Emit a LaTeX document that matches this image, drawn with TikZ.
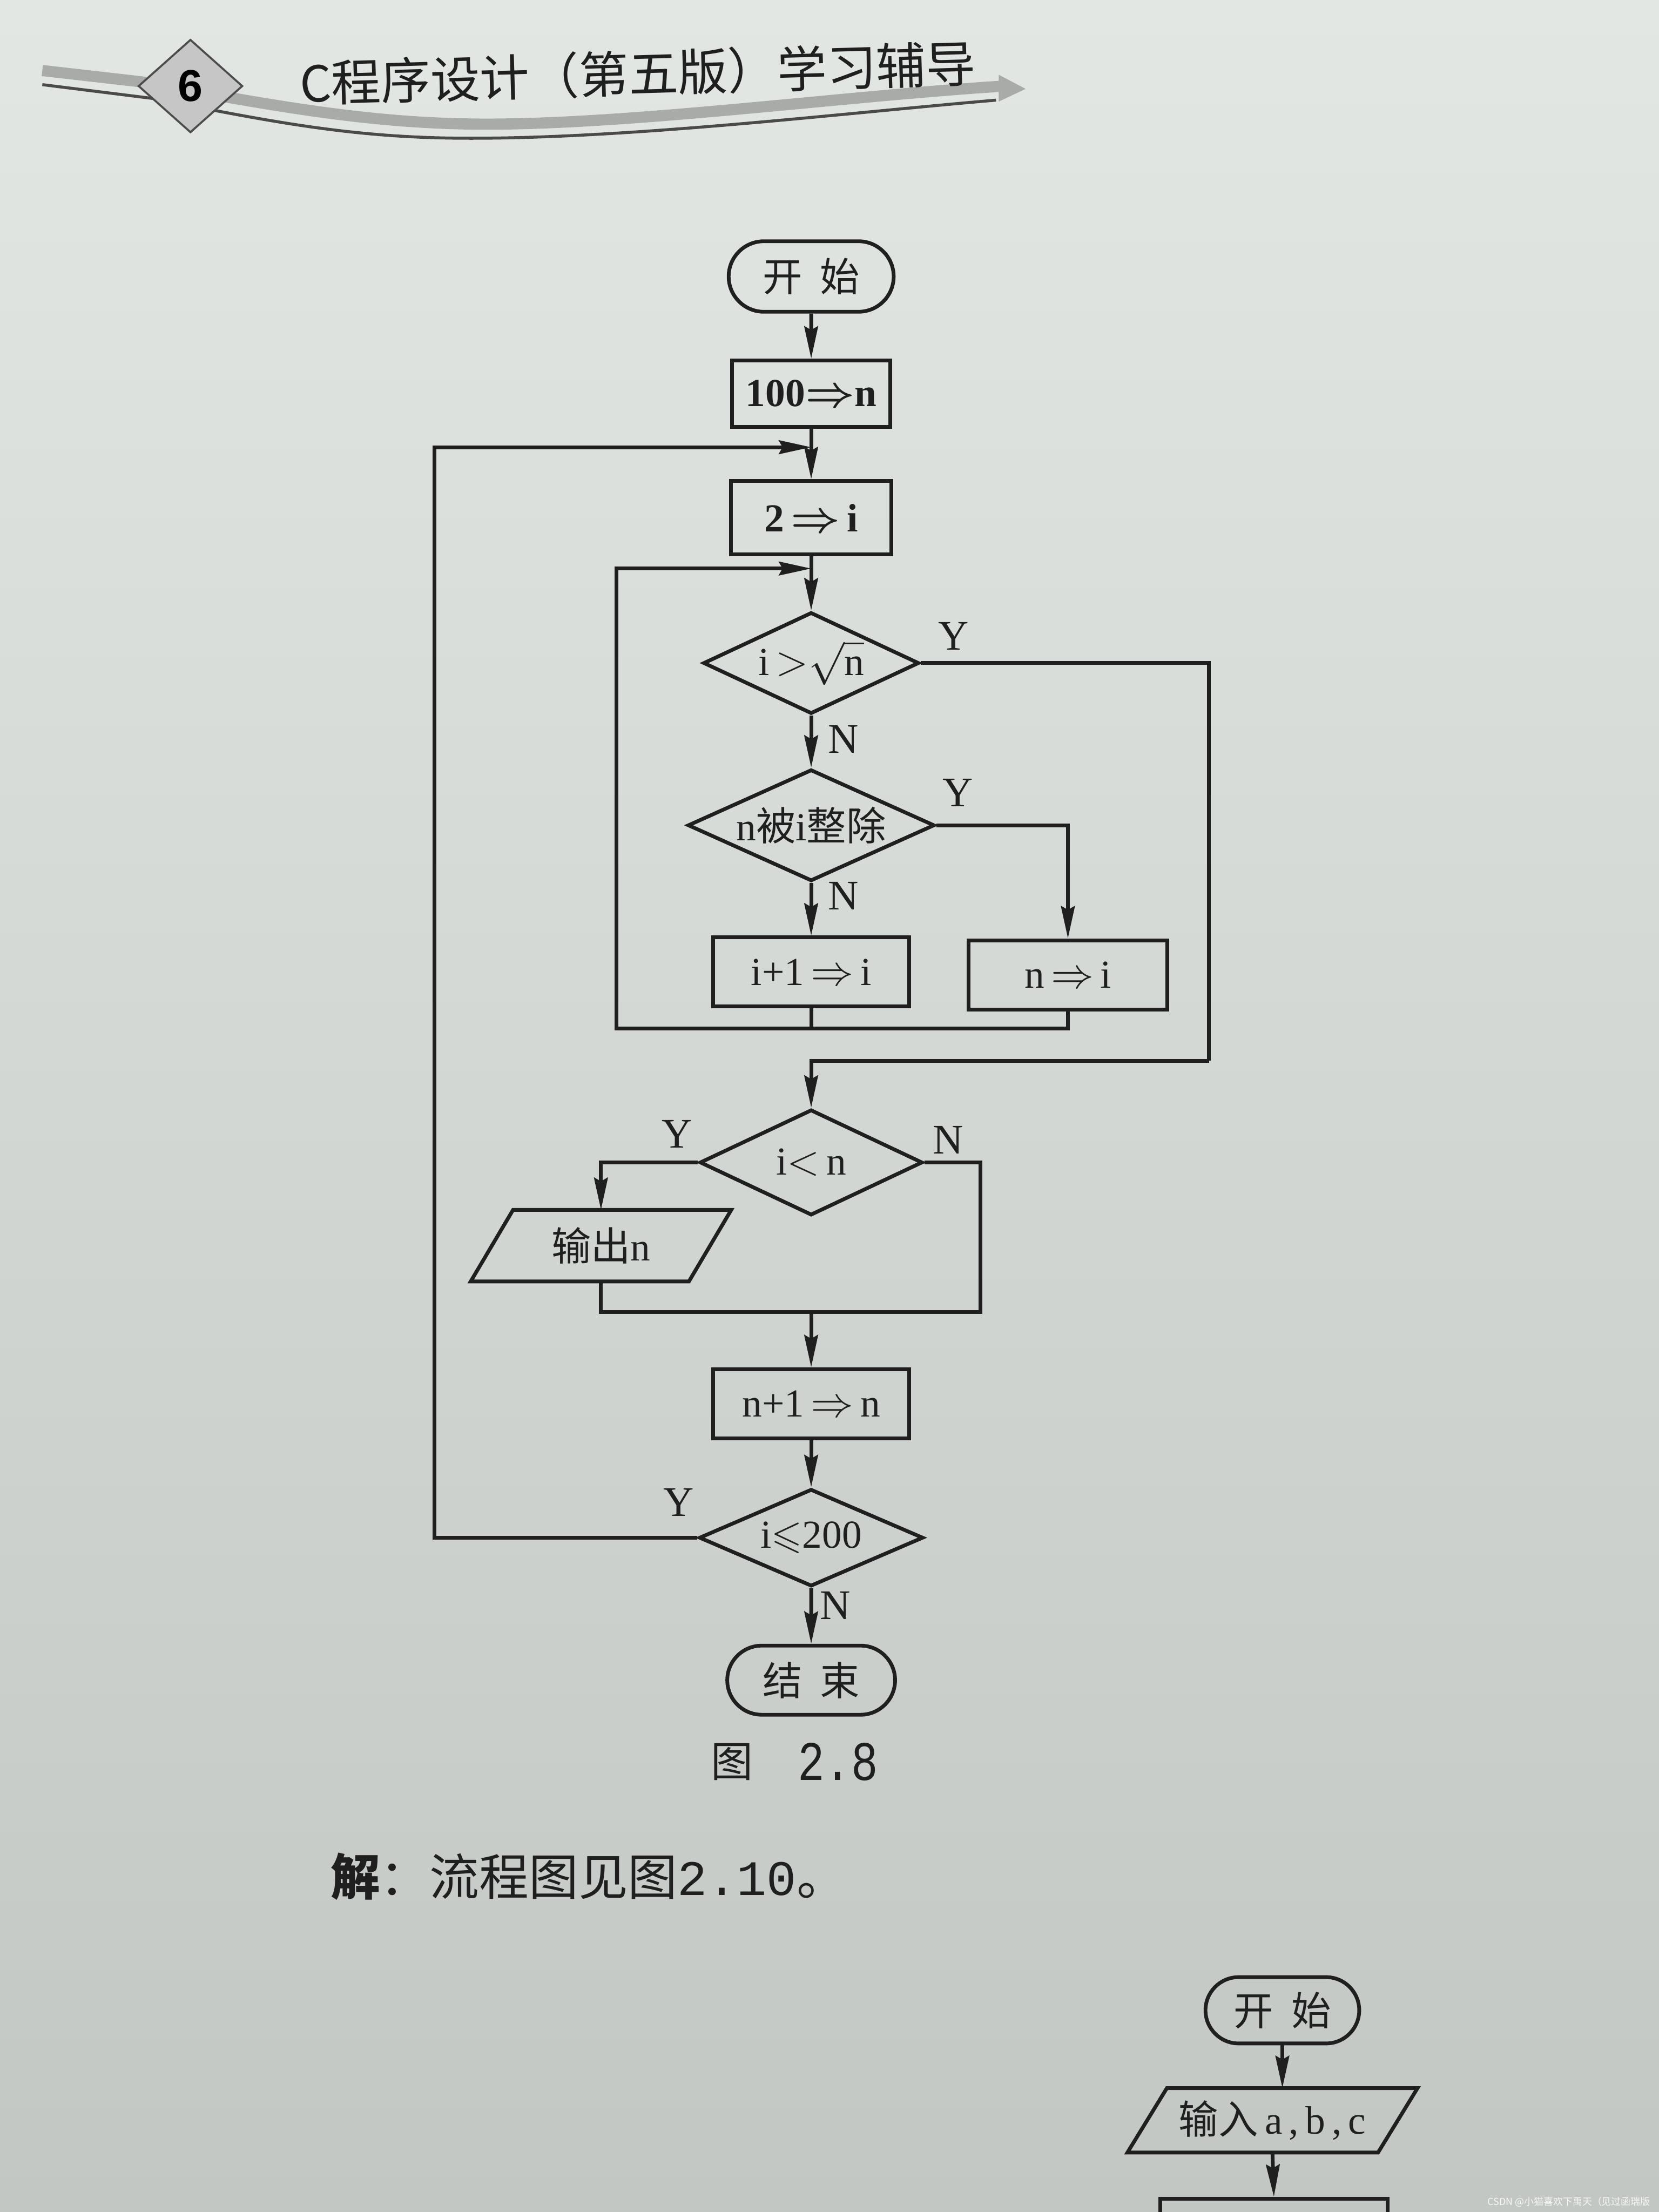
\documentclass[tikz,border=0pt]{standalone}
\usepackage{fontspec}
\usepackage{amssymb}
\usepackage{graphicx}
\setmainfont{Liberation Serif}
\setsansfont{Liberation Sans}
\newfontfamily\cjk{Noto Sans CJK SC}
\newfontfamily\monof{Liberation Mono}
\usetikzlibrary{shapes.misc,shapes.geometric,arrows.meta,calc}
\definecolor{ink}{HTML}{1F1F1F}
\definecolor{paperA}{HTML}{E3E7E4}
\definecolor{paperB}{HTML}{DADEDB}
\definecolor{paperC}{HTML}{C3C7C4}
\definecolor{bandc}{HTML}{A9ABA9}
\definecolor{thinc}{HTML}{4A4A4A}
\newcommand\zh[1]{{\cjk #1}}
\newcommand\fsz{\fontsize{16}{19}\selectfont}
\newcommand\drawpara[2]{\draw[ln] ([xshift=-#2]#1.south west) -- ([xshift=-#2]#1.south east) -- ([xshift=#2]#1.north east) -- ([xshift=#2]#1.north west) -- cycle;}
\tikzset{
 ln/.style={draw=ink, line width=1.5pt},
 arr/.style={ln, -{Stealth[length=13pt,width=5.5pt,inset=1.5pt]}},
 proc/.style={rectangle, ln, inner sep=0pt, font=\fsz, text=ink},
 term/.style={rounded rectangle, ln, inner sep=0pt, font=\fsz, text=ink},
 dec/.style={diamond, ln, inner sep=0pt, aspect=2, font=\fsz, text=ink},
 txt/.style={inner sep=0pt, font=\fsz, text=ink},
 yn/.style={inner sep=0pt, font=\fontsize{17}{17}\selectfont, text=ink},
}
\begin{document}
\begin{tikzpicture}[x=0.02cm,y=-0.02cm]
\clip (0,0) rectangle (1176,1568);
\shade[top color=paperA, middle color=paperB, bottom color=paperC] (0,0) rectangle (1176,1568);

% ---------- page header ----------
\draw[bandc, line width=4.5pt] (30,50) -- (100,58) .. controls (190,74) and (260,88) .. (345,88) .. controls (450,88) and (600,68) .. (712,61);
\fill[bandc] (708,53) -- (727,63) -- (708,72) -- cycle;
\draw[thinc, line width=1.2pt] (30,60) -- (110,70) .. controls (200,88) and (255,98) .. (334,98) .. controls (450,98) and (600,80) .. (706,71);
\node[diamond, draw=gray!60!black, fill=gray!45, line width=0.8pt, minimum width=1.48cm, minimum height=1.32cm, inner sep=0pt, aspect=1.1] (pg) at (135,61) {\sffamily\bfseries\fontsize{18}{18}\selectfont 6};
\node[rotate=1.7, inner sep=0pt, text=ink, font=\cjk\fontsize{20}{20}\selectfont] (hdr) at (452,52) {C程序设计（第五版）学习辅导};

% ---------- main flowchart ----------
\node[term, minimum width=2.34cm, minimum height=1.0cm] (start) at (575,196) {\zh{开\hspace{0.45em}始}};
\node[proc, minimum width=2.24cm, minimum height=0.94cm] (n100) at (575,279) {\bfseries 100{\boldmath$\Rightarrow$}n};
\node[proc, minimum width=2.28cm, minimum height=1.04cm] (i2) at (575,367) {\bfseries 2\,{\boldmath$\Rightarrow$}\,i};
\node[dec, minimum width=3.06cm, minimum height=1.44cm] (d1) at (575,470) {i\,$>$$\sqrt{\hbox{n}}$};
\node[dec, minimum width=3.5cm, minimum height=1.54cm] (d2) at (575,585) {n\zh{被}i\zh{整除}};
\node[proc, minimum width=2.78cm, minimum height=0.98cm] (inc) at (575,689) {i+1\,$\Rightarrow$\,i};
\node[proc, minimum width=2.82cm, minimum height=0.98cm] (ni) at (757,691) {n\,$\Rightarrow$\,i};
\node[dec, minimum width=3.16cm, minimum height=1.5cm] (d3) at (575,824) {i$<$\,n};
\node[txt, minimum width=3.08cm, minimum height=1.0cm] (out) at (426,883) {\zh{输出}n};
\drawpara{out}{0.3cm}
\node[proc, minimum width=2.78cm, minimum height=0.98cm] (nn) at (575,995) {n+1\,$\Rightarrow$\,n};
\node[dec, minimum width=3.18cm, minimum height=1.38cm] (d4) at (575,1090) {i$\leqslant$200};
\node[term, minimum width=2.38cm, minimum height=0.98cm] (end) at (575,1191) {\zh{结\hspace{0.45em}束}};

\coordinate (m1) at (575,317);
\coordinate (m2) at (575,403);
\coordinate (j1) at (575,729);
\coordinate (lp1) at (437,729);
\coordinate (lp2) at (437,403);
\coordinate (ry2) at (857,752);
\coordinate (rn) at (695,930);
\coordinate (jb) at (575,930);
\coordinate (ol1) at (308,1090);
\coordinate (ol2) at (308,317);

\draw[arr] (start) -- (n100);
\draw[arr] (n100) -- (i2);
\draw[arr] (i2) -- (d1);
\draw[arr] (d1) -- (d2);
\draw[arr] (d2) -- (inc);
\draw[arr] (d2.east) -| (ni.north);
\draw[ln] (inc.south) -- (j1);
\draw[ln] (ni.south) |- (j1);
\draw[arr] (j1) -- (lp1) -- (lp2) -- (m2);
\draw[ln] (d1.east) -| (ry2);
\draw[arr] (ry2) -| (d3.north);
\draw[arr] (d3.west) -| (out.north);
\draw[ln] (d3.east) -| (rn) -- (jb);
\draw[ln] (out.south) |- (jb);
\draw[arr] (jb) -- (nn);
\draw[arr] (nn) -- (d4);
\draw[arr] (d4) -- (end);
\draw[arr] (d4.west) -- (ol1) -- (ol2) -- (m1);

\node[yn] (lY1) at (676,451) {Y};
\node[yn] (lN1) at (598,524) {N};
\node[yn] (lY2) at (679,562) {Y};
\node[yn] (lN2) at (598,635) {N};
\node[yn] (lY3) at (480,804) {Y};
\node[yn] (lN3) at (672,808) {N};
\node[yn] (lY4) at (481,1065) {Y};
\node[yn] (lN4) at (592,1138) {N};

% ---------- caption and text ----------
\node[inner sep=0pt, text=ink, font=\cjk\fontsize{17}{17}\selectfont] (cap1) at (519,1249) {图};
\node[inner sep=0pt, text=ink, font=\monof\fontsize{18}{18}\selectfont] (cap2) at (594,1249) {\scalebox{1}[1.25]{2.8}};
\node[anchor=west, inner sep=0pt, text=ink, font=\fontsize{20}{20}\selectfont] (sol) at (234,1330) {\zh{\bfseries 解}\zh{：流程图见图}{\monof 2.10}\zh{。}};

% ---------- next flowchart (partial) ----------
\node[term, minimum width=2.18cm, minimum height=0.94cm] (start2) at (909,1425) {\zh{开\hspace{0.45em}始}};
\node[txt, minimum width=3.54cm, minimum height=0.9cm] (inp) at (902,1503) {\zh{输入}\,a\,,\,b\,,\,c};
\drawpara{inp}{0.28cm}
\node[proc, minimum width=3.22cm, minimum height=0.9cm] (box3) at (903,1581) {};
\draw[arr] (start2.south) -- (start2.south |- inp.north);
\draw[arr] (inp.south) -- (box3.north);

% ---------- watermark ----------
\node[anchor=east, inner sep=0pt, text=white!93!gray, font=\cjk\fontsize{3.9}{4}\selectfont] (wm) at (1170,1561) {CSDN @小猫喜欢下禹天（见过函瑞版};
\end{tikzpicture}
\end{document}
